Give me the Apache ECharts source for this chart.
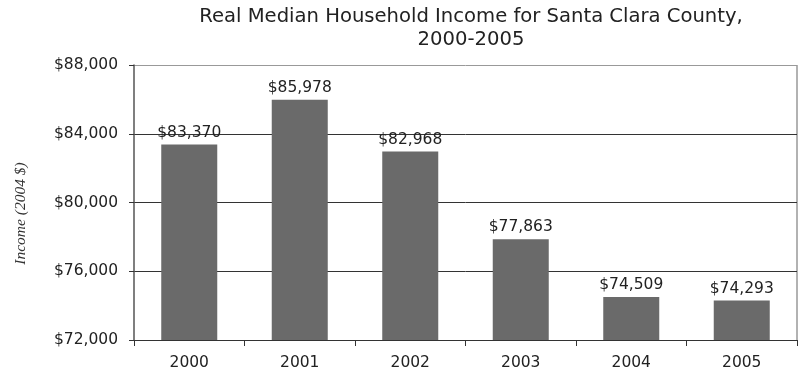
<!DOCTYPE html>
<html>
<head>
<meta charset="utf-8">
<script src="https://cdn.jsdelivr.net/npm/echarts@6/dist/echarts.min.js"></script>
<style>
  html, body { margin: 0; padding: 0; background: #fff; }
  #chart { width: 802px; height: 374px; }
</style>
</head>
<body>
<div id="chart"></div>
<script>
// data
const years = ['2000', '2001', '2002', '2003', '2004', '2005'];
const income = [83370, 85978, 82968, 77863, 74509, 74293];
const yTicks = [72000, 76000, 80000, 84000, 88000];

const money = v => '$' + Number(v).toLocaleString('en-US');
const font = '"DejaVu Sans", sans-serif';

const chart = echarts.init(document.getElementById('chart'));
chart.setOption({
  animation: false,
  title: {
    text: 'Real Median Household Income for Santa Clara County,\n2000-2005',
    left: 466,
    top: 0,
    textAlign: 'center',
    textStyle: { fontFamily: font, fontSize: 19.6, fontWeight: 'normal', color: '#222', lineHeight: 23 }
  },
  grid: { left: 134, right: 5, top: 65, bottom: 34, containLabel: false },
  xAxis: {
    type: 'category',
    data: years,
    axisLine: { lineStyle: { color: '#333', width: 1 } },
    axisTick: { show: true, length: 6, lineStyle: { color: '#333' } },
    axisLabel: { fontFamily: font, fontSize: 15.5, color: '#222', margin: 15 }
  },
  yAxis: {
    type: 'value',
    min: yTicks[0],
    max: yTicks[yTicks.length - 1],
    interval: 4000,
    name: 'Income (2004 $)',
    nameLocation: 'middle',
    nameGap: 105,
    nameTextStyle: { fontFamily: '"Liberation Serif", "DejaVu Serif", serif', fontStyle: 'italic', fontSize: 15.5, color: '#333', padding: [0, 22, 0, 0] },
    axisLine: { show: true, lineStyle: { color: '#555', width: 1.5 } },
    axisTick: { show: true, length: 5, lineStyle: { color: '#333' } },
    axisLabel: { fontFamily: font, fontSize: 15.5, color: '#222', margin: 16, formatter: money },
    splitLine: { show: true, lineStyle: { color: ['#333', '#333', '#333', '#333', '#999'], width: 1 } }
  },
  series: [{
    type: 'bar',
    data: income,
    barWidth: 56,
    itemStyle: { color: '#6a6a6a' },
    label: {
      show: true,
      position: 'top',
      distance: 4,
      fontFamily: font,
      fontSize: 15.5,
      color: '#222',
      formatter: p => money(p.value)
    }
  }],
  graphic: [{
    type: 'line',
    shape: { x1: 797, y1: 65, x2: 797, y2: 340 },
    style: { stroke: '#999', lineWidth: 1.5 }
  }]
});
</script>
</body>
</html>
